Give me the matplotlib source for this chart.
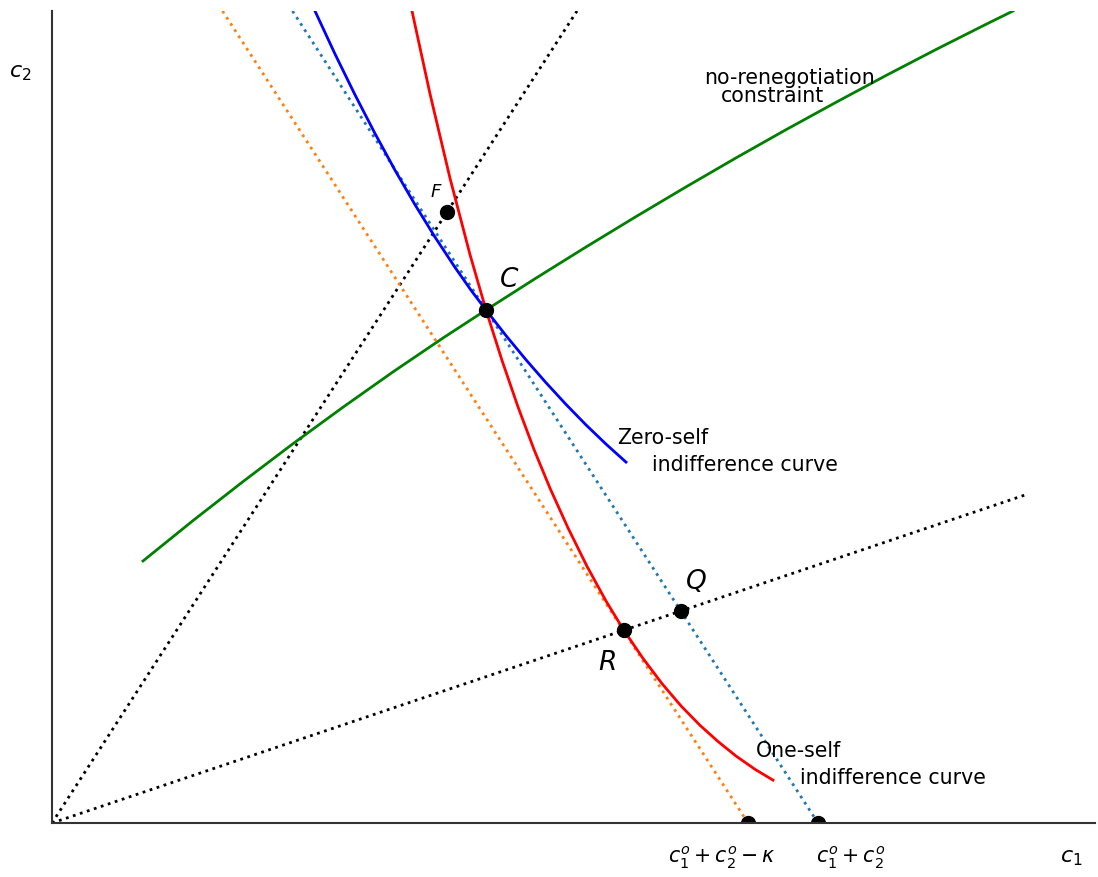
import matplotlib
matplotlib.use("Agg")
import matplotlib.pyplot as plt

# ---- data (units: 1 = 100 px) ----
green_x = [0.91, 1.41, 1.91, 2.41, 2.91, 3.41, 3.91, 4.34, 4.84, 5.34, 5.84, 6.34,
           6.84, 7.34, 7.84, 8.34, 8.84, 9.34, 9.61]
green_y = [2.62, 3.024, 3.414, 3.793, 4.158, 4.511, 4.85, 5.13, 5.449, 5.76, 6.064,
           6.361, 6.651, 6.933, 7.207, 7.475, 7.735, 7.987, 8.12]

blue_x = [2.63, 2.83, 3.03, 3.23, 3.43, 3.63, 3.83, 4.03, 4.19, 4.34, 4.54, 4.74,
          4.94, 5.14, 5.34, 5.54, 5.74]
blue_y = [8.12, 7.69, 7.282, 6.895, 6.528, 6.183, 5.859, 5.556, 5.328, 5.13, 4.874,
          4.632, 4.403, 4.186, 3.981, 3.789, 3.609]

red_x = [3.60, 3.78, 3.98, 4.18, 4.34, 4.50, 4.66, 4.82, 4.98, 5.16, 5.35, 5.54,
         5.72, 5.91, 6.10, 6.29, 6.48, 6.66, 6.84, 7.03, 7.21]
red_y = [8.12, 7.292, 6.448, 5.684, 5.13, 4.626, 4.161, 3.735, 3.348, 2.951, 2.567,
         2.22, 1.925, 1.646, 1.394, 1.171, 0.977, 0.815, 0.67, 0.537, 0.429]

budget_hi_x = [2.405, 7.66]   # dotted budget line c1+c2
budget_hi_y = [8.12, 0.0]
budget_lo_x = [1.705, 6.96]   # dotted budget line c1+c2-kappa
budget_lo_y = [8.12, 0.0]

ray1_x = [0.0, 5.25]
ray1_y = [0.0, 8.12]
ray2_x = [0.0, 9.73]
ray2_y = [0.0, 3.28]

pts_x = [4.34, 3.95, 6.29, 5.72, 6.96, 7.66]   # C, F, Q, R, two intercepts
pts_y = [5.13, 6.11, 2.12, 1.93, 0.0, 0.0]

fig = plt.figure(figsize=(10.98, 8.78), dpi=100)
ax = fig.add_axes([52 / 1098, 54 / 878, 1043 / 1098, 812 / 878])
ax.set_xlim(0, 10.43)
ax.set_ylim(0, 8.12)

ax.plot(ray1_x, ray1_y, ':', color='black', lw=2)
ax.plot(ray2_x, ray2_y, ':', color='black', lw=2)
ax.plot(budget_lo_x, budget_lo_y, ':', color='tab:orange', lw=2)
ax.plot(budget_hi_x, budget_hi_y, ':', color='tab:blue', lw=2)
ax.plot(green_x, green_y, color='green', lw=2)
ax.plot(blue_x, blue_y, color='blue', lw=2)
ax.plot(red_x, red_y, color='red', lw=2)
ax.plot(pts_x, pts_y, 'o', color='black', ms=10, zorder=5)

for s in ['top', 'right']:
    ax.spines[s].set_visible(False)
for s in ['left', 'bottom']:
    ax.spines[s].set_linewidth(1.5)
    ax.spines[s].set_color('#333333')
    ax.spines[s].set_zorder(6)
ax.set_xticks([])
ax.set_yticks([])

fs = 14.8
ax.text(6.52, 7.46, "no-renegotiation", fontsize=fs, va='center', ha='left')
ax.text(6.69, 7.28, "constraint", fontsize=fs, va='center', ha='left')
ax.text(5.65, 3.86, "Zero-self", fontsize=fs, va='center', ha='left')
ax.text(6.00, 3.59, "indifference curve", fontsize=fs, va='center', ha='left')
ax.text(7.04, 0.73, "One-self", fontsize=fs, va='center', ha='left')
ax.text(7.48, 0.46, "indifference curve", fontsize=fs, va='center', ha='left')

ax.text(4.57, 5.44, "$C$", fontsize=19, ha='center', va='center')
ax.text(3.84, 6.32, "$F$", fontsize=13, ha='center', va='center')
ax.text(6.44, 2.42, "$Q$", fontsize=19, ha='center', va='center')
ax.text(5.55, 1.61, "$R$", fontsize=19, ha='center', va='center')

ax.text(6.70, -0.34, r"$c_1^o + c_2^o - \kappa$", fontsize=fs, ha='center', va='center')
ax.text(7.99, -0.34, r"$c_1^o + c_2^o$", fontsize=fs, ha='center', va='center')
ax.text(10.19, -0.34, "$c_1$", fontsize=16, ha='center', va='center')
ax.text(-0.32, 7.51, "$c_2$", fontsize=16, ha='center', va='center')

fig.savefig("out.png", dpi=100)
